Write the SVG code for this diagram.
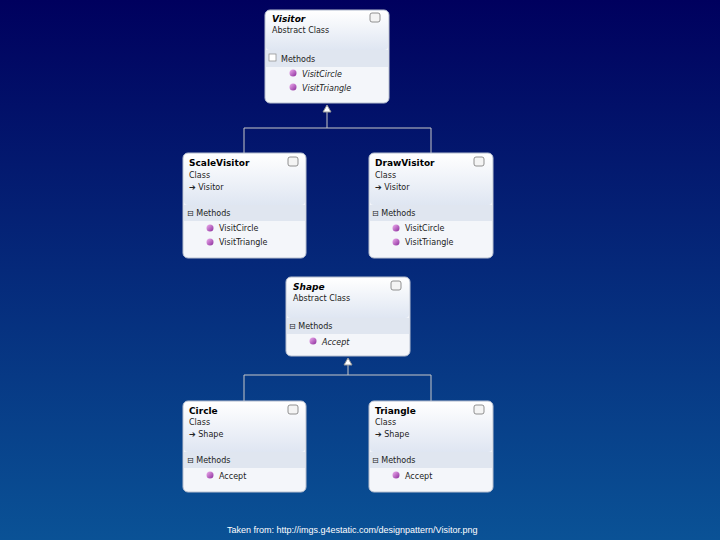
<svg xmlns="http://www.w3.org/2000/svg" width="720" height="540" viewBox="0 0 720 540">
<defs>
<linearGradient id="bg" x1="0" y1="0" x2="0" y2="1"><stop offset="0" stop-color="#00005e"/><stop offset="1" stop-color="#0a5296"/></linearGradient>
<linearGradient id="hd" x1="0" y1="0" x2="0" y2="1"><stop offset="0" stop-color="#ffffff"/><stop offset="1" stop-color="#dfe6f2"/></linearGradient>
<linearGradient id="gem" x1="0" y1="0" x2="1" y2="1"><stop offset="0" stop-color="#f0b0f0"/><stop offset="1" stop-color="#8a2a9a"/></linearGradient>
<marker id="tri" viewBox="0 0 10 10" refX="5" refY="0" markerWidth="8" markerHeight="8" orient="auto-start-reverse" markerUnits="userSpaceOnUse"><path d="M0,10 L5,0 L10,10 Z" fill="#fff" stroke="#999"/></marker>
<style>
.box{fill:#f4f6fa;stroke:#b8c0d0;stroke-width:1}
.hdr{fill:url(#hd)}
.sep{fill:#e0e6f0}
.t{font-family:"DejaVu Sans",sans-serif;font-size:9px;fill:#000}
.b{font-weight:bold}
.i{font-style:italic}
.s{font-family:"DejaVu Sans",sans-serif;font-size:8px;fill:#222}
.ln{stroke:#c8c8c8;stroke-width:1;fill:none}
.btn{fill:#f4f4f4;stroke:#777;stroke-width:0.8}
</style>
</defs>
<rect width="720" height="540" fill="url(#bg)"/>
<g id="connectors">
<path class="ln" d="M327,112 V128 M244,128 H431 M244,128 V153 M431,128 V153"/>
<path class="ln" d="M348,365 V375 M244,375 H431 M244,375 V401 M431,375 V401"/>
<path d="M323,112 L327,105 L331,112 Z" fill="#fff" stroke="#999"/>
<path d="M344,365 L348,358 L352,365 Z" fill="#fff" stroke="#999"/>
</g>
<g id="Visitor">
<rect class="box" x="265" y="10" width="124" height="93" rx="5"/>
<rect class="hdr" x="266" y="11" width="122" height="39" rx="4"/>
<rect class="sep" x="266" y="50" width="122" height="17"/>
<text class="t b i" x="272" y="22">Visitor</text><text class="s" x="272" y="33">Abstract Class</text>
<rect class="btn" x="370" y="13" width="10" height="9" rx="2"/>
<rect x="269" y="54" width="7" height="7" fill="#fff" stroke="#888" stroke-width="0.7"/>
<text class="s" x="281" y="62">Methods</text>
<circle cx="293" cy="73" r="3.5" fill="url(#gem)"/><text class="s i" x="302" y="77">VisitCircle</text>
<circle cx="293" cy="87" r="3.5" fill="url(#gem)"/><text class="s i" x="302" y="91">VisitTriangle</text>
</g>
<g id="ScaleVisitor">
<rect class="box" x="183" y="153" width="123" height="105" rx="5"/>
<rect class="hdr" x="184" y="154" width="121" height="51" rx="4"/>
<rect class="sep" x="184" y="205" width="121" height="16"/>
<text class="t b" x="189" y="166">ScaleVisitor</text><text class="s" x="189" y="178">Class</text><text class="s" x="189" y="190">➔ Visitor</text>
<rect class="btn" x="288" y="157" width="10" height="9" rx="2"/>
<text class="s" x="187" y="216">⊟ Methods</text>
<circle cx="210" cy="228" r="3.5" fill="url(#gem)"/><text class="s" x="219" y="231">VisitCircle</text>
<circle cx="210" cy="242" r="3.5" fill="url(#gem)"/><text class="s" x="219" y="245">VisitTriangle</text>
</g>
<g id="DrawVisitor">
<rect class="box" x="369" y="153" width="124" height="105" rx="5"/>
<rect class="hdr" x="370" y="154" width="122" height="51" rx="4"/>
<rect class="sep" x="370" y="205" width="122" height="16"/>
<text class="t b" x="375" y="166">DrawVisitor</text><text class="s" x="375" y="178">Class</text><text class="s" x="375" y="190">➔ Visitor</text>
<rect class="btn" x="474" y="157" width="10" height="9" rx="2"/>
<text class="s" x="372" y="216">⊟ Methods</text>
<circle cx="396" cy="228" r="3.5" fill="url(#gem)"/><text class="s" x="405" y="231">VisitCircle</text>
<circle cx="396" cy="242" r="3.5" fill="url(#gem)"/><text class="s" x="405" y="245">VisitTriangle</text>
</g>
<g id="Shape">
<rect class="box" x="286" y="277" width="124" height="79" rx="5"/>
<rect class="hdr" x="287" y="278" width="122" height="40" rx="4"/>
<rect class="sep" x="287" y="318" width="122" height="16"/>
<text class="t b i" x="293" y="290">Shape</text><text class="s" x="293" y="301">Abstract Class</text>
<rect class="btn" x="391" y="281" width="10" height="9" rx="2"/>
<text class="s" x="289" y="329">⊟ Methods</text>
<circle cx="313" cy="341" r="3.5" fill="url(#gem)"/><text class="s i" x="322" y="345">Accept</text>
</g>
<g id="Circle">
<rect class="box" x="183" y="401" width="123" height="91" rx="5"/>
<rect class="hdr" x="184" y="402" width="121" height="50" rx="4"/>
<rect class="sep" x="184" y="452" width="121" height="16"/>
<text class="t b" x="189" y="414">Circle</text><text class="s" x="189" y="425">Class</text><text class="s" x="189" y="437">➔ Shape</text>
<rect class="btn" x="288" y="405" width="10" height="9" rx="2"/>
<text class="s" x="187" y="463">⊟ Methods</text>
<circle cx="210" cy="475" r="3.5" fill="url(#gem)"/><text class="s" x="219" y="479">Accept</text>
</g>
<g id="Triangle">
<rect class="box" x="369" y="401" width="124" height="91" rx="5"/>
<rect class="hdr" x="370" y="402" width="122" height="50" rx="4"/>
<rect class="sep" x="370" y="452" width="122" height="16"/>
<text class="t b" x="375" y="414">Triangle</text><text class="s" x="375" y="425">Class</text><text class="s" x="375" y="437">➔ Shape</text>
<rect class="btn" x="474" y="405" width="10" height="9" rx="2"/>
<text class="s" x="372" y="463">⊟ Methods</text>
<circle cx="396" cy="475" r="3.5" fill="url(#gem)"/><text class="s" x="405" y="479">Accept</text>
</g>
<text x="227" y="533" font-family="Liberation Sans, sans-serif" font-size="9" fill="#fff">Taken from: http://imgs.g4estatic.com/designpattern/Visitor.png</text>
</svg>
